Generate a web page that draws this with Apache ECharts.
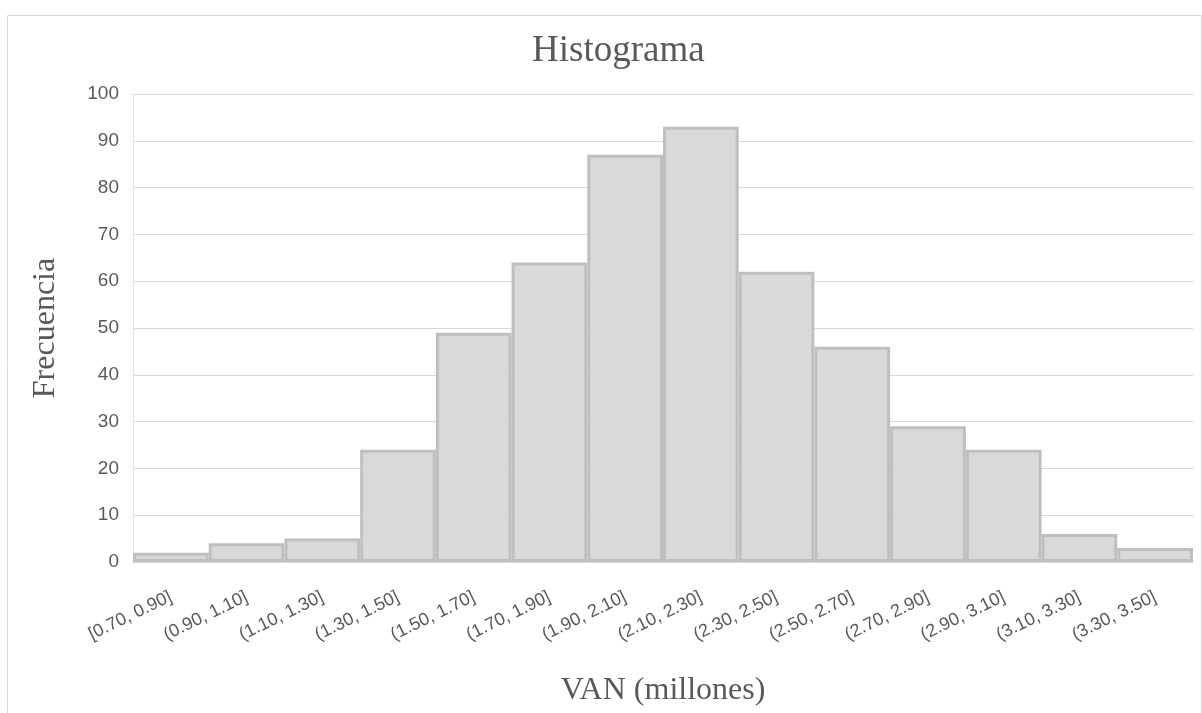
<!DOCTYPE html>
<html><head><meta charset="utf-8">
<script src="https://cdn.jsdelivr.net/npm/echarts@6/dist/echarts.min.js"></script>
<style>html,body{margin:0;padding:0;background:#fff}#c{width:1202px;height:713px}</style>
</head><body><div id="c"></div>
<script>
const categories = ['[0.70, 0.90]','(0.90, 1.10]','(1.10, 1.30]','(1.30, 1.50]','(1.50, 1.70]','(1.70, 1.90]','(1.90, 2.10]','(2.10, 2.30]','(2.30, 2.50]','(2.50, 2.70]','(2.70, 2.90]','(2.90, 3.10]','(3.10, 3.30]','(3.30, 3.50]'];
const frequencies = [2, 4, 5, 24, 49, 64, 87, 93, 62, 46, 29, 24, 6, 3];
const yTicks = [0, 10, 20, 30, 40, 50, 60, 70, 80, 90, 100];

const chart = echarts.init(document.getElementById('c'));
chart.setOption({
  backgroundColor: '#ffffff',
  animation: false,
  graphic: [{
    type: 'rect', left: 5, top: 13, shape: {width: 1194, height: 705},
    style: {fill: 'none', stroke: '#d9d9d9', lineWidth: 1}, silent: true
  }],
  title: {
    text: 'Histograma', left: 527, top: 28,
    textStyle: {fontFamily: 'Liberation Serif', fontSize: 37, fontWeight: 'normal', color: '#595959'}
  },
  grid: {left: 133, right: 9, top: 94, bottom: 151},
  xAxis: {
    type: 'category', data: categories,
    name: 'VAN (millones)', nameLocation: 'middle', nameGap: 113,
    nameTextStyle: {fontFamily: 'Liberation Serif', fontSize: 32, color: '#595959'},
    axisLine: {show: true, lineStyle: {color: '#d9d9d9', width: 1}},
    axisTick: {show: false},
    axisLabel: {rotate: 26, interval: 0, fontFamily: 'Liberation Sans', fontSize: 18, color: '#595959', margin: 34}
  },
  yAxis: {
    type: 'value', min: 0, max: 100, interval: 10,
    name: 'Frecuencia', nameLocation: 'middle', nameGap: 71, nameRotate: 90,
    nameTextStyle: {fontFamily: 'Liberation Serif', fontSize: 32, color: '#595959'},
    axisLine: {show: true, lineStyle: {color: '#e3e3e3', width: 1}}, axisTick: {show: false},
    axisLabel: {fontFamily: 'Liberation Sans', fontSize: 19, color: '#595959', margin: 14,
      formatter: v => yTicks.includes(v) ? String(v) : ''},
    splitLine: {lineStyle: {color: '#d9d9d9', width: 1}}
  },
  series: [{
    type: 'bar', data: frequencies, barCategoryGap: '0%',
    itemStyle: {color: '#d9d9d9', borderColor: '#bfbfbf', borderWidth: 3}
  }]
});
</script></body></html>
